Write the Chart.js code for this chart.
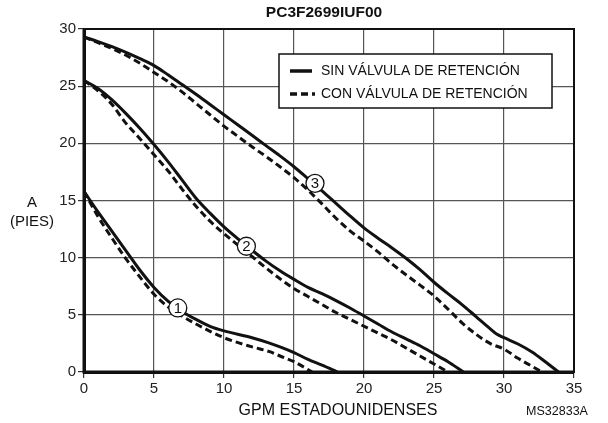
<!DOCTYPE html>
<html>
<head>
<meta charset="utf-8">
<script src="https://cdn.jsdelivr.net/npm/chart.js@4/dist/chart.umd.min.js"></script>
<style>
html,body{margin:0;padding:0;background:#fff;}
#wrap{width:608px;height:423px;position:relative;}
</style>
</head>
<body>
<div id="wrap"><canvas id="c"></canvas></div>
<script>

/* ================================
   DATA
================================ */

const gpm1Sin = [0,1,2,3,4,5,6,7,8,9,10,12,13.2,14,15,16,17,18.1]
const pies1Sin = [15.8,14.0,12.3,10.6,8.9,7.4,6.2,5.3,4.6,4.0,3.6,3.0,2.55,2.2,1.7,1.1,0.6,0]

const gpm1Con = [0,1,2,3,4,5,6,7,8,10,12,13.2,14,15,16.3]
const pies1Con = [15.8,13.6,11.7,9.9,8.3,6.8,5.7,4.9,4.2,3.0,2.2,1.8,1.4,0.9,0]

const gpm2Sin = [0,1,2,3,4,5,6,7,8,9,10,11,12,13,14,15,16,17,18,19,20,21,22,23,24,25,26,27.1]
const pies2Sin = [25.5,24.8,23.8,22.6,21.3,19.9,18.4,16.8,15.2,13.9,12.7,11.65,10.65,9.7,8.85,8.1,7.4,6.85,6.25,5.6,4.9,4.2,3.5,2.9,2.3,1.6,0.9,0]

const gpm2Con = [0,1,2,2.9,4,5,6,7,8,9,10,11,12,13,14,15,16,17,18,19,20,21,22,23,24,25,26]
const pies2Con = [25.5,24.6,23.4,21.9,20.4,19.0,17.6,16.0,14.5,13.2,12.1,11.1,10.1,9.1,8.15,7.3,6.6,5.9,5.2,4.6,4.0,3.4,2.8,2.1,1.4,0.7,0]

const gpm3Sin = [0,1,2,3,4,5,6,7,8,9,10,11,12,13,14,15,16,17,18,19,20,21,22,23,24,25,26,27,28,29,29.5,30,31,32,33,33.9]
const pies3Sin = [29.3,28.9,28.45,27.95,27.4,26.8,26.0,25.15,24.3,23.4,22.5,21.6,20.7,19.8,18.9,17.95,16.9,15.85,14.75,13.65,12.6,11.7,10.85,9.95,8.95,7.85,6.85,5.9,4.85,3.8,3.3,3.0,2.45,1.75,0.85,0]

const gpm3Con = [0,1,2,3,4,5,6,7,8,9,10,11,12,13,14,15,16,17,18,19,20,21,22,23,24,25,26,27,28,29,30,31,32,32.7]
const pies3Con = [29.3,28.8,28.3,27.7,27.0,26.2,25.4,24.5,23.5,22.5,21.5,20.6,19.7,18.85,17.95,17.0,15.9,14.7,13.45,12.35,11.45,10.5,9.45,8.5,7.6,6.65,5.5,4.3,3.3,2.5,2.0,1.2,0.5,0]

const xTicks = [0,5,10,15,20,25,30,35]
const yTicks = [0,5,10,15,20,25,30]

const curveNums = ["1","2","3"]
const curveNumX = [6.7,11.6,16.5]
const curveNumY = [5.6,11.0,16.5]

const legendTexts = ["SIN VÁLVULA DE RETENCIÓN","CON VÁLVULA DE RETENCIÓN"]

const chartTitle = "PC3F2699IUF00"
const xTitle = "GPM ESTADOUNIDENSES"
const yTitle = ["A","(PIES)"]
const drawingCode = "MS32833A"

/* ================================
   HELPERS
================================ */

function pts(xs,ys){
return xs.map((x,i)=>({x:x,y:ys[i]}))
}

function curve(xs,ys,dashed){
return {
data:pts(xs,ys),
borderColor:"#111",
borderWidth:3,
borderDash:dashed?[7,4]:[],
pointRadius:0,
showLine:true,
fill:false,
cubicInterpolationMode:"monotone"
}
}

const FONT = "'Liberation Sans', Arial, sans-serif"

/* ================================
   EXTRA DRAWING (frame, labels, legend)
================================ */

const extras = {
id:"extras",
afterDatasetsDraw(chart){
const ctx = chart.ctx
const a = chart.chartArea
const sx = chart.scales.x
const sy = chart.scales.y

ctx.save()

/* frame */
ctx.strokeStyle = "#111"
ctx.lineWidth = 2
ctx.strokeRect(a.left,a.top,a.right-a.left,a.bottom-a.top)
ctx.lineWidth = 3
ctx.beginPath()
ctx.moveTo(a.left,a.top)
ctx.lineTo(a.left,a.bottom)
ctx.lineTo(a.right,a.bottom)
ctx.stroke()

/* circled curve numbers */
ctx.font = "15px " + FONT
ctx.textAlign = "center"
ctx.textBaseline = "middle"
curveNums.forEach((n,i)=>{
const cx = sx.getPixelForValue(curveNumX[i])
const cy = sy.getPixelForValue(curveNumY[i])
ctx.beginPath()
ctx.arc(cx,cy,9,0,Math.PI*2)
ctx.fillStyle = "#fff"
ctx.fill()
ctx.lineWidth = 1.3
ctx.strokeStyle = "#111"
ctx.stroke()
ctx.fillStyle = "#111"
ctx.fillText(n,cx,cy+0.5)
})

/* legend box */
const lx = 279, ly = 54, lw = 273, lh = 54
ctx.fillStyle = "#fff"
ctx.fillRect(lx,ly,lw,lh)
ctx.lineWidth = 1.5
ctx.strokeStyle = "#111"
ctx.strokeRect(lx,ly,lw,lh)

ctx.lineWidth = 3.5
ctx.beginPath()
ctx.moveTo(290,71)
ctx.lineTo(312,71)
ctx.stroke()
ctx.setLineDash([7,4])
ctx.beginPath()
ctx.moveTo(290,94)
ctx.lineTo(315,94)
ctx.stroke()
ctx.setLineDash([])

ctx.fillStyle = "#111"
ctx.font = "14px " + FONT
ctx.textAlign = "left"
ctx.fillText(legendTexts[0],321,71)
ctx.fillText(legendTexts[1],321,94)

/* titles */
ctx.textAlign = "center"
ctx.font = "bold 15.5px " + FONT
ctx.fillText(chartTitle,324,13)

ctx.font = "16px " + FONT
ctx.fillText(xTitle,338,411)
ctx.font = "15px " + FONT
ctx.fillText(yTitle[0],32,203)
ctx.fillText(yTitle[1],32,222)

ctx.font = "12.5px " + FONT
ctx.fillText(drawingCode,557,412)

ctx.restore()
}
}

/* ================================
   CHART
================================ */

const chart = new Chart(
document.getElementById("c"),
{
type:"scatter",
data:{
datasets:[
curve(gpm1Sin,pies1Sin,false),
curve(gpm1Con,pies1Con,true),
curve(gpm2Sin,pies2Sin,false),
curve(gpm2Con,pies2Con,true),
curve(gpm3Sin,pies3Sin,false),
curve(gpm3Con,pies3Con,true)
]
},
options:{
responsive:true,
maintainAspectRatio:false,
animation:false,
layout:{padding:{left:0,top:29,right:34,bottom:0}},
plugins:{
legend:{display:false},
tooltip:{enabled:false}
},
scales:{
x:{
type:"linear",
min:0,max:35,
afterBuildTicks:s=>{s.ticks = xTicks.map(v=>({value:v}))},
afterFit:s=>{s.height = 51},
grid:{color:"#555",lineWidth:1.2,tickLength:6,tickColor:"#333"},
border:{color:"#111",width:3},
ticks:{color:"#222",font:{family:FONT,size:15},padding:2,maxRotation:0}
},
y:{
type:"linear",
min:0,max:30,
afterBuildTicks:s=>{s.ticks = yTicks.map(v=>({value:v}))},
afterFit:s=>{s.width = 84},
grid:{color:"#555",lineWidth:1.2,tickLength:6,tickColor:"#333"},
border:{color:"#111",width:3},
ticks:{color:"#222",font:{family:FONT,size:15},padding:2}
}
}
},
plugins:[extras]
})

</script>
</body>
</html>
